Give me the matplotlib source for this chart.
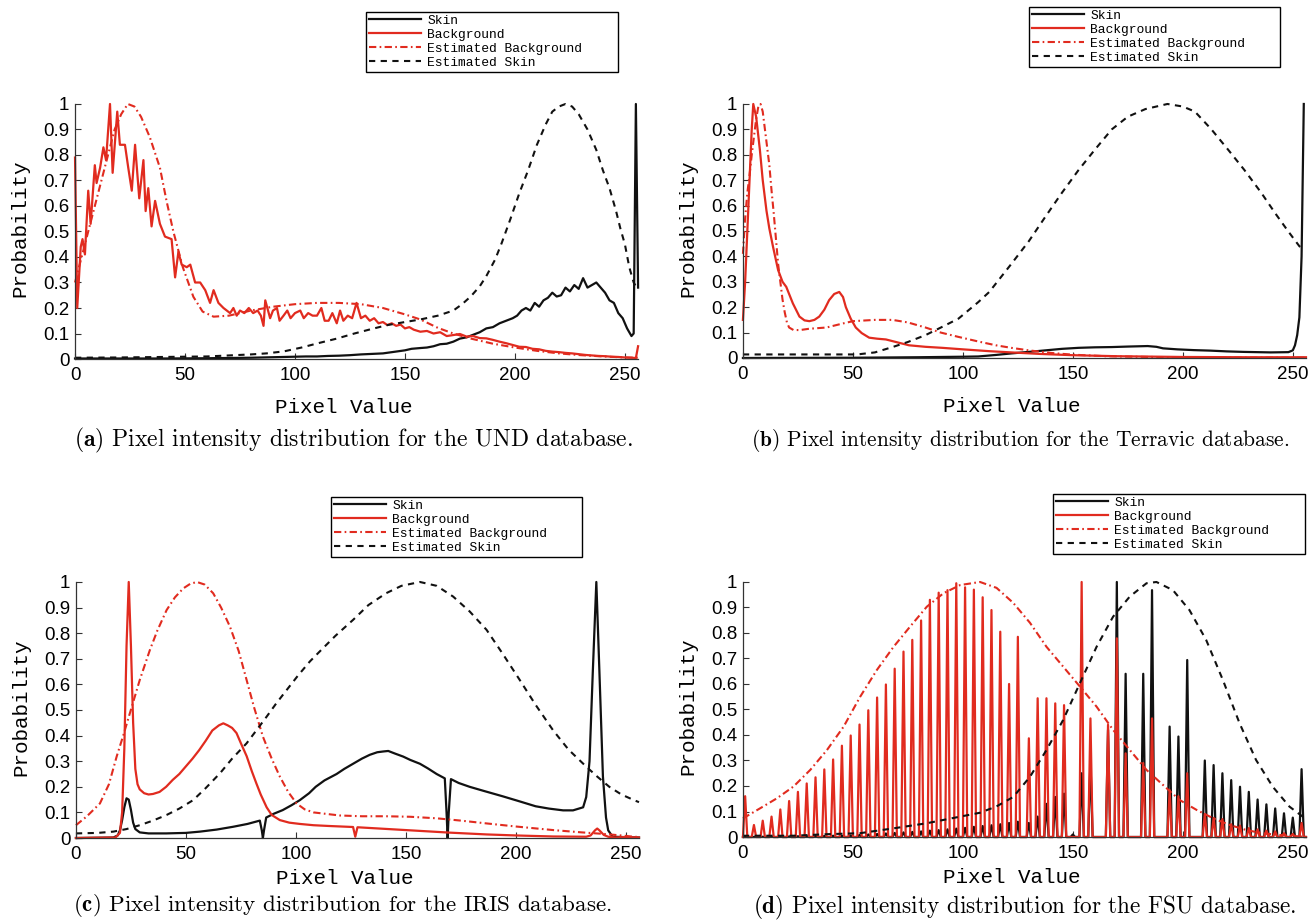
import numpy as np
import matplotlib
matplotlib.use("Agg")
from matplotlib import pyplot as plt

plt.rcParams['mathtext.fontset'] = 'cm'

# --- warna & label ---
RED = '#e12b1f'
BLACK = '#111111'
legend_labels = ['Skin', 'Background', 'Estimated Background', 'Estimated Skin']
xticks = [0, 50, 100, 150, 200, 250]
yticks = [0, 0.1, 0.2, 0.3, 0.4, 0.5, 0.6, 0.7, 0.8, 0.9, 1]
ytick_labels = ['0', '0.1', '0.2', '0.3', '0.4', '0.5', '0.6', '0.7', '0.8', '0.9', '1']
captions = [
    r'$\mathbf{(a)}$ Pixel intensity distribution for the UND database.',
    r'$\mathbf{(b)}$ Pixel intensity distribution for the Terravic database.',
    r'$\mathbf{(c)}$ Pixel intensity distribution for the IRIS database.',
    r'$\mathbf{(d)}$ Pixel intensity distribution for the FSU database.',
]

# --- (a) UND ---
a_skin_x = [0, 20, 40, 60, 80, 90, 100, 105, 110, 115,
            120, 125, 130, 135, 140, 145, 150, 153, 157, 160,
            163, 166, 169, 172, 175, 178, 181, 184, 187, 190,
            193, 196, 199, 201, 203, 205, 207, 209, 211, 213,
            215, 217, 219, 221, 223, 225, 227, 229, 231, 233,
            235, 237, 239, 241, 243, 245, 247, 249, 251, 253,
            254, 255, 256]
a_skin_y = [0.002, 0.002, 0.002, 0.003, 0.005, 0.007, 0.009, 0.01, 0.01, 0.012,
            0.013, 0.015, 0.018, 0.02, 0.022, 0.028, 0.034, 0.04, 0.043, 0.045,
            0.05, 0.058, 0.06, 0.068, 0.08, 0.085, 0.095, 0.105, 0.12, 0.125,
            0.14, 0.15, 0.16, 0.17, 0.19, 0.2, 0.19, 0.22, 0.205, 0.23,
            0.24, 0.26, 0.245, 0.25, 0.28, 0.265, 0.29, 0.275, 0.317, 0.28,
            0.29, 0.30, 0.28, 0.26, 0.23, 0.22, 0.18, 0.16, 0.12, 0.09,
            0.1, 1.0, 0.28]
a_bg_x = [0, 1, 2.6, 3.4, 4.5, 6, 7.1, 9, 9.8, 11.4,
          12.9, 14.1, 15.9, 17.1, 19.2, 20.4, 22.7, 24.2, 25.8, 27.3,
          29.2, 31.1, 32.1, 33.3, 34.8, 36.4, 38.6, 40.9, 43.9, 45.5,
          47, 48.5, 50.8, 52.4, 54.6, 56.9, 59.2, 61.4, 63, 65.2,
          67.5, 70.5, 72, 73.5, 75, 77, 79, 81, 83, 84.5,
          85.7, 86.5, 88.7, 90, 91.8, 93, 94.8, 96.5, 98, 100,
          102.4, 104, 106, 108, 110, 112, 113.5, 115.3, 117, 119,
          120.5, 122, 124, 126, 128, 130, 132, 134, 136, 138,
          140, 142, 144, 146, 148, 150, 152, 154, 157, 160,
          163, 166, 169, 172, 175, 178, 181, 184, 187, 190,
          193, 196, 199, 202, 205, 208, 211, 214, 217, 220,
          223, 226, 229, 232, 235, 238, 241, 244, 247, 250,
          253, 255, 256]
a_bg_y = [0.79, 0.20, 0.44, 0.47, 0.41, 0.66, 0.53, 0.76, 0.69, 0.75,
          0.83, 0.78, 1.0, 0.73, 0.97, 0.84, 0.84, 0.75, 0.66, 0.84,
          0.63, 0.78, 0.58, 0.67, 0.52, 0.62, 0.53, 0.48, 0.47, 0.32,
          0.42, 0.37, 0.36, 0.37, 0.30, 0.30, 0.27, 0.22, 0.27, 0.22,
          0.20, 0.18, 0.20, 0.17, 0.19, 0.18, 0.20, 0.18, 0.19, 0.17,
          0.13, 0.23, 0.16, 0.19, 0.20, 0.15, 0.17, 0.19, 0.16, 0.18,
          0.19, 0.16, 0.18, 0.17, 0.17, 0.20, 0.15, 0.15, 0.18, 0.14,
          0.19, 0.15, 0.17, 0.16, 0.22, 0.16, 0.17, 0.15, 0.16, 0.14,
          0.145, 0.133, 0.14, 0.13, 0.135, 0.12, 0.125, 0.115, 0.107, 0.11,
          0.10, 0.105, 0.09, 0.094, 0.098, 0.088, 0.09, 0.082, 0.081, 0.075,
          0.068, 0.062, 0.055, 0.048, 0.047, 0.04, 0.038, 0.032, 0.029, 0.027,
          0.024, 0.022, 0.019, 0.016, 0.014, 0.012, 0.011, 0.009, 0.008, 0.006,
          0.005, 0.004, 0.05]
a_ebg_x = [0, 3, 6, 9, 12, 15, 18, 21, 24, 27,
           30, 34, 38.6, 41.6, 44.7, 49, 53.8, 58, 63, 70,
           80, 90, 100, 110, 120, 130, 140, 150, 157, 165,
           172, 180, 190, 200, 210, 220, 230, 240, 250, 256]
a_ebg_y = [0.3, 0.4, 0.5, 0.6, 0.7, 0.8, 0.9, 0.96, 1.0, 0.99,
           0.95, 0.87, 0.75, 0.62, 0.5, 0.36, 0.244, 0.186, 0.166, 0.17,
           0.19, 0.205, 0.215, 0.22, 0.22, 0.215, 0.2, 0.175, 0.155, 0.122,
           0.1, 0.08, 0.06, 0.045, 0.032, 0.022, 0.015, 0.01, 0.006, 0.005]
a_eskin_x = [0, 20, 40, 60, 70, 80, 87, 95, 103, 111,
             119, 127, 135, 142, 150, 157, 165, 172, 176, 180,
             184, 187, 191, 194, 198, 202, 206, 210, 214, 217,
             220, 223, 226, 229, 233, 237, 240, 243, 246, 248,
             250, 252, 254, 256]
a_eskin_y = [0.005, 0.006, 0.008, 0.01, 0.014, 0.018, 0.022, 0.03, 0.045, 0.063,
             0.08, 0.1, 0.118, 0.133, 0.145, 0.155, 0.17, 0.19, 0.215, 0.246,
             0.285, 0.325, 0.39, 0.455, 0.55, 0.65, 0.74, 0.84, 0.92, 0.97,
             0.99, 1.0, 0.99, 0.96, 0.9, 0.82, 0.74, 0.67, 0.58, 0.51,
             0.45, 0.36, 0.3, 0.27]

# --- (b) Terravic ---
b_skin_x = [0, 50, 80, 100, 107, 115, 122, 130, 137.5, 145,
            152.6, 160, 167.7, 175, 184, 188, 191, 197.5, 205, 212.6,
            220, 227.7, 240, 248, 250, 251, 252, 253, 254, 255]
b_skin_y = [0.0, 0.001, 0.003, 0.005, 0.006, 0.012, 0.018, 0.024, 0.03, 0.036,
            0.04, 0.042, 0.043, 0.045, 0.047, 0.044, 0.038, 0.034, 0.031, 0.029,
            0.026, 0.024, 0.022, 0.023, 0.03, 0.05, 0.09, 0.16, 0.4, 1.0]
b_bg_x = [0, 1, 2, 3, 4, 4.7, 6, 7.7, 9, 10.7,
          12, 13.7, 16, 18, 19.7, 22.7, 25.7, 28, 30.2, 32.5,
          34.7, 37, 39.2, 41.5, 43.8, 45.5, 46.8, 49, 51.3, 54,
          57.4, 61, 65, 70, 75.5, 83, 90.6, 100, 111.7, 122,
          135, 150, 170, 200, 230, 256]
b_bg_y = [0.15, 0.3, 0.5, 0.7, 0.9, 1.0, 0.95, 0.82, 0.7, 0.58,
          0.51, 0.437, 0.346, 0.3, 0.28, 0.215, 0.163, 0.148, 0.145, 0.15,
          0.163, 0.19, 0.228, 0.252, 0.26, 0.24, 0.2, 0.155, 0.12, 0.098,
          0.08, 0.076, 0.073, 0.062, 0.05, 0.044, 0.04, 0.034, 0.027, 0.022,
          0.016, 0.011, 0.007, 0.004, 0.003, 0.003]
b_ebg_x = [0, 1, 2, 3, 4, 5, 6, 7, 8, 9,
           10, 11, 12, 13, 14, 15, 16, 17, 18, 19,
           20, 21, 23, 26, 30, 38, 45, 50, 60, 68,
           75, 83, 90, 98, 107, 115, 122, 130, 140, 150,
           165, 185, 210, 256]
b_ebg_y = [0.41, 0.55, 0.65, 0.72, 0.8, 0.87, 0.94, 0.99, 1.0, 0.97,
           0.9, 0.83, 0.76, 0.66, 0.57, 0.47, 0.37, 0.3, 0.23, 0.18,
           0.14, 0.12, 0.11, 0.11, 0.115, 0.12, 0.135, 0.145, 0.15, 0.15,
           0.14, 0.12, 0.1, 0.083, 0.065, 0.05, 0.04, 0.03, 0.02, 0.013,
           0.007, 0.004, 0.002, 0.001]
b_eskin_x = [0, 20, 40, 52, 60, 68, 75, 83, 90, 98,
             107, 112, 122, 130, 137.5, 145, 152.6, 160, 167.7, 175,
             183, 193, 200, 205.5, 213, 220.6, 228, 235.7, 242, 247.8,
             253, 255]
b_eskin_y = [0.014, 0.014, 0.014, 0.014, 0.022, 0.043, 0.063, 0.09, 0.12, 0.155,
             0.22, 0.26, 0.37, 0.46, 0.556, 0.65, 0.74, 0.82, 0.9, 0.95,
             0.98, 1.0, 0.99, 0.97, 0.9, 0.82, 0.74, 0.65, 0.57, 0.5,
             0.44, 0.43]

# --- (c) IRIS ---
c_skin_x = [0, 17, 19, 20, 21, 22, 23, 24, 25, 26,
            27, 29, 33, 41, 50, 56.4, 64, 71.5, 78, 83.6,
            84.5, 85, 85.5, 86.5, 90, 94, 98, 101.8, 106, 109,
            113, 118.5, 122, 126, 130, 133.6, 137, 139.7, 142, 145,
            148.8, 152, 156.4, 160, 164, 167.7, 168.5, 169, 169.5, 170.5,
            174, 179, 185, 194, 201, 209, 215, 221.5, 226, 230.6,
            232, 233.5, 235, 236.6, 238, 239.6, 241, 242, 244, 256]
c_skin_y = [0, 0.002, 0.01, 0.03, 0.07, 0.12, 0.155, 0.15, 0.11, 0.06,
            0.035, 0.022, 0.018, 0.018, 0.02, 0.025, 0.033, 0.044, 0.055, 0.068,
            0.03, 0.0, 0.03, 0.08, 0.095, 0.109, 0.128, 0.148, 0.175, 0.2,
            0.225, 0.25, 0.27, 0.29, 0.31, 0.325, 0.335, 0.338, 0.34, 0.33,
            0.318, 0.305, 0.29, 0.272, 0.25, 0.233, 0.1, 0.0, 0.1, 0.23,
            0.215, 0.2, 0.185, 0.163, 0.145, 0.124, 0.115, 0.108, 0.108, 0.12,
            0.16, 0.3, 0.65, 1.0, 0.65, 0.24, 0.08, 0.03, 0.005, 0.002]
c_bg_x = [0, 18, 20, 21, 22, 23, 24, 25, 26, 27,
          28, 29, 31, 33, 35, 38, 41, 44, 47, 50,
          53, 56, 59, 62, 65, 67, 69, 71, 73, 75,
          77.6, 80, 82, 84, 86.7, 89, 92.7, 97, 101.8, 108,
          115, 126, 127, 128, 140, 156, 170, 186.7, 200, 217,
          232, 234, 236, 237, 238, 240, 242, 245, 250, 256]
c_bg_y = [0, 0.002, 0.02, 0.1, 0.35, 0.75, 1.0, 0.75, 0.45, 0.27,
          0.21, 0.19, 0.175, 0.17, 0.172, 0.18, 0.2, 0.227, 0.25, 0.28,
          0.31, 0.343, 0.38, 0.42, 0.44, 0.448, 0.44, 0.43, 0.41, 0.37,
          0.32, 0.26, 0.214, 0.17, 0.12, 0.09, 0.07, 0.06, 0.055, 0.05,
          0.047, 0.043, 0.005, 0.042, 0.036, 0.028, 0.021, 0.014, 0.01, 0.006,
          0.005, 0.01, 0.03, 0.037, 0.03, 0.012, 0.005, 0.002, 0.004, 0.002]
c_ebg_x = [0, 5, 10.9, 15, 18.5, 21.5, 24.5, 29, 33.6, 37,
           41.2, 45, 48.8, 52, 55, 58.5, 62.4, 66, 70, 74,
           77.6, 81, 85, 89, 92.7, 96.5, 100.3, 104, 108, 113,
           120, 130, 141, 152, 164, 175, 186.7, 200, 217, 230,
           240, 248, 253.6, 256]
c_ebg_y = [0.05, 0.085, 0.135, 0.21, 0.318, 0.4, 0.487, 0.617, 0.734, 0.81,
           0.89, 0.94, 0.975, 0.993, 1.0, 0.99, 0.956, 0.9, 0.826, 0.73,
           0.617, 0.51, 0.396, 0.31, 0.24, 0.18, 0.135, 0.112, 0.1, 0.095,
           0.088, 0.085, 0.085, 0.083, 0.077, 0.068, 0.057, 0.045, 0.031, 0.022,
           0.016, 0.01, 0.005, 0.004]
c_eskin_x = [0, 10, 17, 23, 29, 35, 41.2, 47, 53.3, 59,
             65.5, 71, 77.6, 82, 86.7, 91, 95.8, 101, 106.4, 111,
             118, 126, 133, 141, 148, 156.4, 164, 171.5, 179, 186.7,
             194, 201.8, 209, 217, 224, 232, 237, 242.5, 248, 253.7,
             256]
c_eskin_y = [0.018, 0.02, 0.025, 0.035, 0.05, 0.068, 0.09, 0.115, 0.148, 0.195,
             0.253, 0.31, 0.37, 0.42, 0.474, 0.525, 0.578, 0.635, 0.69, 0.73,
             0.79, 0.852, 0.91, 0.956, 0.985, 1.0, 0.985, 0.943, 0.885, 0.813,
             0.72, 0.617, 0.52, 0.42, 0.345, 0.279, 0.24, 0.2, 0.17, 0.148,
             0.14]

# --- (d) FSU: histogram bins are non-zero only every 4th pixel value ---
d_pos = [1, 5, 9, 13, 17, 21, 25, 29, 33, 37,
         41, 45, 49, 53, 57, 61, 65, 69, 73, 77,
         81, 85, 89, 93, 97, 101, 105, 109, 113, 117,
         121, 125, 130, 134, 138, 142, 146, 150, 154, 158,
         162, 166, 170, 174, 178, 182, 186, 190, 194, 198,
         202, 206, 210, 214, 218, 222, 226, 230, 234, 238,
         242, 246, 250, 254]
d_skin_peak = [0.0, 0.0, 0.001, 0.001, 0.002, 0.002, 0.003, 0.003, 0.004, 0.004,
               0.005, 0.005, 0.006, 0.008, 0.01, 0.012, 0.014, 0.016, 0.018, 0.02,
               0.022, 0.025, 0.027, 0.03, 0.033, 0.036, 0.04, 0.043, 0.046, 0.05,
               0.055, 0.06, 0.055, 0.08, 0.13, 0.157, 0.17, 0.01, 0.25, 0.3,
               0.0, 0.42, 1.0, 0.64, 0.0, 0.64, 0.968, 0.0, 0.433, 0.394,
               0.694, 0.0, 0.3, 0.282, 0.25, 0.223, 0.197, 0.177, 0.147, 0.128,
               0.112, 0.093, 0.076, 0.266]
d_bg_peak = [0.16, 0.047, 0.064, 0.08, 0.108, 0.141, 0.177, 0.21, 0.234, 0.265,
             0.304, 0.358, 0.398, 0.441, 0.497, 0.547, 0.598, 0.66, 0.727, 0.773,
             0.849, 0.93, 0.958, 0.968, 0.995, 0.979, 0.97, 0.94, 0.89, 0.805,
             0.6, 0.785, 0.387, 0.544, 0.544, 0.524, 0.517, 0.0, 1.0, 0.465,
             0.0, 0.44, 0.779, 0.328, 0.0, 0.29, 0.465, 0.0, 0.184, 0.16,
             0.25, 0.0, 0.09, 0.075, 0.07, 0.05, 0.045, 0.035, 0.03, 0.025,
             0.022, 0.015, 0.012, 0.055]
d_ebg_x = [0, 7.9, 15.5, 23, 30.6, 38.2, 45.8, 53.3, 60.9, 68.5,
           76, 83.6, 91.2, 98.8, 107.8, 115.3, 122.9, 130.5, 138, 145.6,
           153.2, 160.8, 168.3, 175.9, 183.5, 191, 198.6, 206.3, 213.9, 221.4,
           229, 236.6, 244, 253, 256]
d_ebg_y = [0.073, 0.113, 0.152, 0.198, 0.263, 0.341, 0.433, 0.55, 0.655, 0.746,
           0.825, 0.903, 0.956, 0.988, 1.0, 0.977, 0.918, 0.84, 0.746, 0.668,
           0.59, 0.511, 0.42, 0.341, 0.263, 0.204, 0.145, 0.106, 0.073, 0.047,
           0.027, 0.014, 0.008, 0.002, 0.001]
d_eskin_x = [0, 23, 38.2, 53.3, 68.5, 83.6, 98.8, 107.7, 115.3, 122.9,
             130.5, 138, 145.6, 153.2, 160.8, 168.3, 175.9, 183.5, 188, 195.5,
             203, 210.6, 218.2, 225.8, 233.3, 240.9, 248.5, 254.5, 256]
d_eskin_y = [0.005, 0.005, 0.011, 0.015, 0.034, 0.054, 0.08, 0.095, 0.12, 0.157,
             0.236, 0.341, 0.459, 0.603, 0.746, 0.864, 0.943, 0.995, 1.0, 0.968,
             0.89, 0.773, 0.616, 0.446, 0.302, 0.197, 0.119, 0.08, 0.075]

bins = np.arange(0, 257)
d_skin = np.zeros(len(bins))
d_skin[d_pos] = d_skin_peak
d_bg = np.zeros(len(bins))
d_bg[d_pos] = d_bg_peak

MONO = 'Liberation Mono'
SANS = 'Liberation Sans'

fig = plt.figure(figsize=(13.14, 9.21), dpi=100)

# posisi panel (figure fraction)
rects = [
    [0.0571, 0.6102, 0.4285, 0.2769],
    [0.5654, 0.6113, 0.4285, 0.2758],
    [0.0578, 0.0901, 0.4285, 0.2780],
    [0.5654, 0.0912, 0.4285, 0.2769],
]
legend_boxes = [
    (0.2785, 0.987, 0.1918),
    (0.7831, 0.9924, 0.1910),
    (0.2519, 0.4604, 0.1910),
    (0.8014, 0.4636, 0.1918),
]
# (x, y, fontsize) untuk keterangan gambar
caption_pos = [(0.2690, 0.522, 17), (0.7763, 0.522, 15.4),
               (0.2603, 0.017, 16.6), (0.7800, 0.015, 16.7)]

series = [
    (a_skin_x, a_skin_y, a_bg_x, a_bg_y, a_ebg_x, a_ebg_y, a_eskin_x, a_eskin_y),
    (b_skin_x, b_skin_y, b_bg_x, b_bg_y, b_ebg_x, b_ebg_y, b_eskin_x, b_eskin_y),
    (c_skin_x, c_skin_y, c_bg_x, c_bg_y, c_ebg_x, c_ebg_y, c_eskin_x, c_eskin_y),
    (bins, d_skin, bins, d_bg, d_ebg_x, d_ebg_y, d_eskin_x, d_eskin_y),
]

for i in range(4):
    ax = fig.add_axes(rects[i])
    sx, sy, bx, by, ebx, eby, esx, esy = series[i]
    ax.plot(sx, sy, color=BLACK, lw=1.6, clip_on=False, label=legend_labels[0])
    ax.plot(bx, by, color=RED, lw=1.6, clip_on=False, label=legend_labels[1])
    ax.plot(ebx, eby, color=RED, lw=1.5, ls=(0, (3.5, 1.6, 0.8, 1.6)),
            clip_on=False, label=legend_labels[2])
    ax.plot(esx, esy, color=BLACK, lw=1.5, ls=(0, (3, 2.6)),
            clip_on=False, label=legend_labels[3])

    ax.set_xlim(0, 256)
    ax.set_ylim(0, 1)
    ax.set_xticks(xticks)
    ax.set_xticklabels([str(t) for t in xticks], family=SANS, fontsize=13.5)
    ax.set_yticks(yticks)
    ax.set_yticklabels(ytick_labels, family=SANS, fontsize=13.5)
    ax.tick_params(direction='in', length=4, width=0.8, color='#333333')
    ax.tick_params(axis='x', pad=6)
    ax.tick_params(axis='y', pad=4)
    for s in ['top', 'right']:
        ax.spines[s].set_visible(False)
    for s in ['left', 'bottom']:
        ax.spines[s].set_linewidth(0.9)
        ax.spines[s].set_color('#333333')

    ax.set_xlabel('Pixel Value', family=MONO, fontsize=15)
    ax.set_ylabel('Probability', family=MONO, fontsize=15)
    xl_y = -0.19 if i < 2 else -0.158
    ax.xaxis.set_label_coords(0.478, xl_y)
    ax.xaxis.label.set_va('center')
    ax.yaxis.set_label_coords(-0.098, 0.512)
    ax.yaxis.label.set_va('center')

    x0, top, w = legend_boxes[i]
    leg = ax.legend(loc='upper left', bbox_to_anchor=(x0, top - 0.1, w, 0.1),
                    bbox_transform=fig.transFigure, mode='expand',
                    borderaxespad=0, prop={'family': MONO, 'size': 9.4},
                    handlelength=4.0, handletextpad=0.5, borderpad=0.2,
                    labelspacing=0.15, fancybox=False, framealpha=1)
    leg.get_frame().set_edgecolor('black')
    leg.get_frame().set_linewidth(1.0)

    cx, cy, cs = caption_pos[i]
    fig.text(cx, cy, captions[i], family='cmr10', fontsize=cs,
             ha='center', va='center')

plt.savefig('out.png', dpi=100)
